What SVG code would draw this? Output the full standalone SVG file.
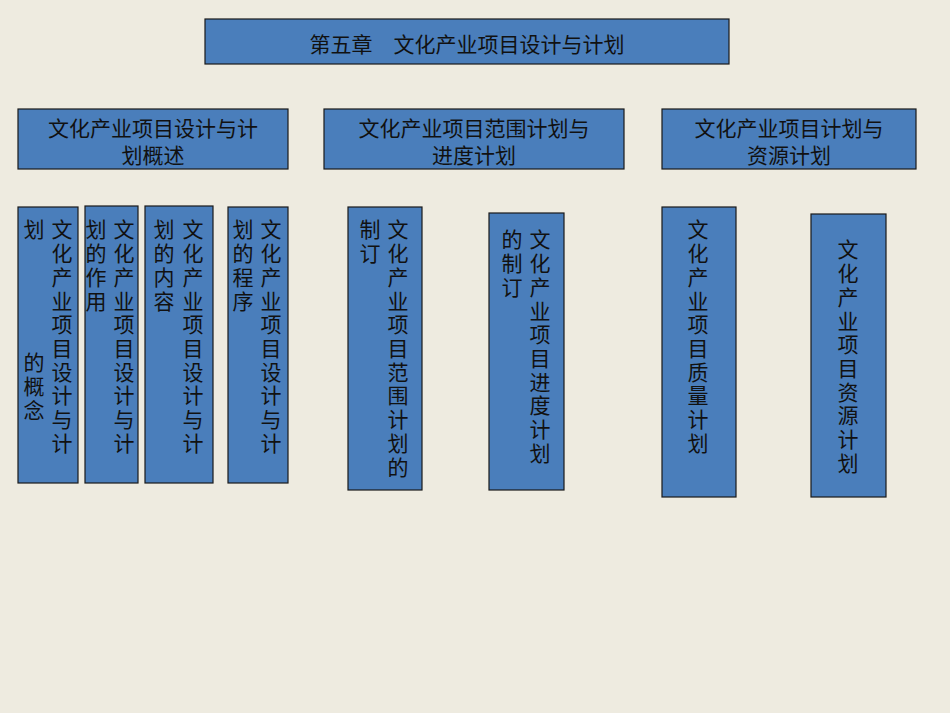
<svg xmlns="http://www.w3.org/2000/svg" width="950" height="713" viewBox="0 0 950 713">
<style>
rect.b{fill:#4A7EBB;stroke:#1a1a1a;stroke-width:1.2}
text{font-family:"Noto Sans CJK SC","Noto Sans",sans-serif;font-size:21px;fill:#111;text-anchor:middle;dominant-baseline:central}
</style>
<rect width="950" height="713" fill="#EEEBE0"/>
<g id="title"><rect class="b" x="205" y="19" width="524" height="45"/><text x="467" y="43">第五章　文化产业项目设计与计划</text></g>
<g id="h1"><rect class="b" x="18" y="109" width="270" height="60"/><text x="153" y="127">文化产业项目设计与计</text><text x="153" y="154">划概述</text></g>
<g id="h2"><rect class="b" x="324" y="109" width="300" height="60"/><text x="474" y="127">文化产业项目范围计划与</text><text x="474" y="154">进度计划</text></g>
<g id="h3"><rect class="b" x="662" y="109" width="254" height="60"/><text x="789" y="127">文化产业项目计划与</text><text x="789" y="154">资源计划</text></g>
<g id="n1"><rect class="b" x="18" y="207" width="60" height="276"/>
<text x="62" y="228">文</text><text x="62" y="252">化</text><text x="62" y="276">产</text><text x="62" y="300">业</text><text x="62" y="323">项</text><text x="62" y="347">目</text><text x="62" y="371">设</text><text x="62" y="394">计</text><text x="62" y="418">与</text><text x="62" y="442">计</text>
<text x="34" y="228">划</text><text x="34" y="361">的</text><text x="34" y="385">概</text><text x="34" y="409">念</text></g>
<g id="n2"><rect class="b" x="85" y="206" width="53" height="277"/>
<text x="124" y="228">文</text><text x="124" y="252">化</text><text x="124" y="276">产</text><text x="124" y="300">业</text><text x="124" y="323">项</text><text x="124" y="347">目</text><text x="124" y="371">设</text><text x="124" y="394">计</text><text x="124" y="418">与</text><text x="124" y="442">计</text>
<text x="96" y="228">划</text><text x="96" y="252">的</text><text x="96" y="276">作</text><text x="96" y="300">用</text></g>
<g id="n3"><rect class="b" x="145" y="206" width="68" height="277"/>
<text x="193" y="228">文</text><text x="193" y="252">化</text><text x="193" y="276">产</text><text x="193" y="300">业</text><text x="193" y="323">项</text><text x="193" y="347">目</text><text x="193" y="371">设</text><text x="193" y="394">计</text><text x="193" y="418">与</text><text x="193" y="442">计</text>
<text x="164" y="228">划</text><text x="164" y="252">的</text><text x="164" y="276">内</text><text x="164" y="300">容</text></g>
<g id="n4"><rect class="b" x="228" y="207" width="60" height="276"/>
<text x="271" y="228">文</text><text x="271" y="252">化</text><text x="271" y="276">产</text><text x="271" y="300">业</text><text x="271" y="323">项</text><text x="271" y="347">目</text><text x="271" y="371">设</text><text x="271" y="394">计</text><text x="271" y="418">与</text><text x="271" y="442">计</text>
<text x="243" y="228">划</text><text x="243" y="252">的</text><text x="243" y="276">程</text><text x="243" y="300">序</text></g>
<g id="n5"><rect class="b" x="348" y="207" width="74" height="283"/>
<text x="398" y="228">文</text><text x="398" y="252">化</text><text x="398" y="276">产</text><text x="398" y="300">业</text><text x="398" y="323">项</text><text x="398" y="347">目</text><text x="398" y="371">范</text><text x="398" y="394">围</text><text x="398" y="418">计</text><text x="398" y="442">划</text><text x="398" y="466">的</text>
<text x="370" y="228">制</text><text x="370" y="252">订</text></g>
<g id="n6"><rect class="b" x="489" y="213" width="75" height="277"/>
<text x="540" y="238">文</text><text x="540" y="262">化</text><text x="540" y="286">产</text><text x="540" y="310">业</text><text x="540" y="333">项</text><text x="540" y="357">目</text><text x="540" y="381">进</text><text x="540" y="404">度</text><text x="540" y="428">计</text><text x="540" y="452">划</text>
<text x="512" y="238">的</text><text x="512" y="262">制</text><text x="512" y="286">订</text></g>
<g id="n7"><rect class="b" x="662" y="207" width="74" height="290"/>
<text x="698" y="228">文</text><text x="698" y="252">化</text><text x="698" y="276">产</text><text x="698" y="300">业</text><text x="698" y="323">项</text><text x="698" y="347">目</text><text x="698" y="371">质</text><text x="698" y="394">量</text><text x="698" y="418">计</text><text x="698" y="442">划</text></g>
<g id="n8"><rect class="b" x="811" y="214" width="75" height="283"/>
<text x="848" y="248">文</text><text x="848" y="272">化</text><text x="848" y="296">产</text><text x="848" y="320">业</text><text x="848" y="343">项</text><text x="848" y="367">目</text><text x="848" y="391">资</text><text x="848" y="414">源</text><text x="848" y="438">计</text><text x="848" y="462">划</text></g>
<g id="connectors"></g>
</svg>
